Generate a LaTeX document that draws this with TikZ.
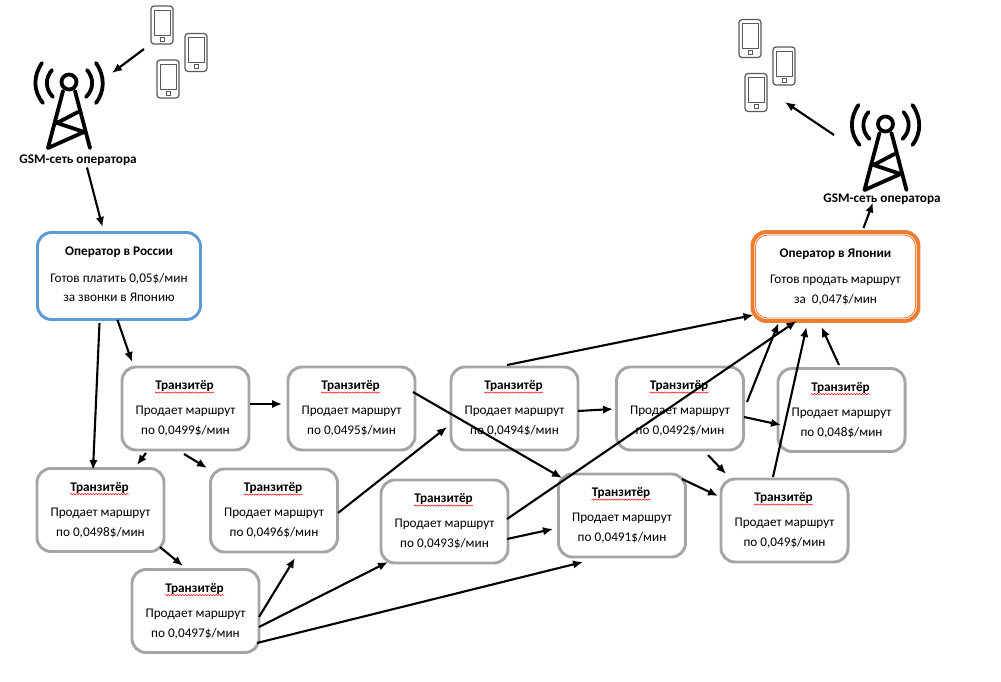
\documentclass[tikz,border=0pt]{standalone}
\usepackage{fontspec}
\setmainfont{Carlito}
\usepackage{xcolor}
\usepackage{tikz}
\usetikzlibrary{arrows.meta, calc, decorations.pathmorphing}
\definecolor{ruBlue}{RGB}{91,155,213}
\definecolor{jpOrange}{RGB}{237,125,49}
\definecolor{transGray}{RGB}{165,165,165}
\definecolor{phoneGray}{RGB}{90,90,90}
\tikzset{
  x=0.025cm, y=-0.025cm,
  box/.style={draw, rounded corners=0.35cm, line width=2.1pt, fill=white, inner sep=0pt},
  transbox/.style={box, draw=transGray, minimum width=3.175cm, minimum height=2.075cm},
  link/.style={-{Latex[length=2.5mm,width=2.1mm]}, line width=1.5pt, black},
  towerline/.style={line width=2.7pt, line cap=round, line join=round},
  wavy/.style={red, line width=0.35pt, decorate, decoration={snake, amplitude=0.45pt, segment length=2pt}},
  boxtext/.style={font=\fontsize{9.4}{9.4}\selectfont, inner sep=0pt},
  boxhead/.style={font=\fontsize{9.4}{9.4}\bfseries\selectfont, inner sep=0pt},
  phone/.pic={
    \draw[phoneGray, line width=0.9pt, rounded corners=2.2pt, fill=white] (-11,-19) rectangle (11,19);
    \draw[phoneGray, line width=0.7pt] (-8,-15) rectangle (8,10);
    \draw[phoneGray, line width=0.6pt] (-2,12) rectangle (2,16);
  },
  tower/.pic={
    \draw[towerline] (0,0) circle (7.5);
    \draw[towerline] (-6,9) -- (-21,66) (6,9) -- (21,66) (-21,66) -- (15,50) -- (-12,41) -- (9,30);
    \draw[towerline] (-17,-12) .. controls (-24,-4) and (-24,7) .. (-16,15);
    \draw[towerline] (18,-12) .. controls (25,-4) and (25,7) .. (17,15);
    \draw[towerline] (-27,-19) .. controls (-36,-6) and (-36,9) .. (-26,21);
    \draw[towerline] (27,-19) .. controls (36,-6) and (36,9) .. (27,21);
  }
}
\newcommand{\transit}[3]{%
  \node[transbox] (#1) at (#2) {};
  \node[boxhead] (#1head) at ($(#1)+(-1,-22.2)$) {Транзитёр};
  \draw[wavy] ($(#1head.south west)+(0,0.5)$) -- ($(#1head.south east)+(0,0.5)$);
  \node[boxtext] (#1a) at ($(#1)+(0,3.3)$) {Продает маршрут};
  \node[boxtext] (#1b) at ($(#1)+(0,22.3)$) {по #3\$/мин};
}
\begin{document}
\begin{tikzpicture}
  \useasboundingbox (0,0) rectangle (1001,682);
  % towers and phones
  \pic at (69,82) {tower};
  \pic at (885.5,124) {tower};
  \pic at (162,25) {phone};
  \pic at (196,52.5) {phone};
  \pic at (168,79) {phone};
  \pic at (750,38.5) {phone};
  \pic at (784,66) {phone};
  \pic at (756,92.5) {phone};
  \node[boxhead] (gsmru) at (78,160.5) {GSM-сеть оператора};
  \node[boxhead] (gsmjp) at (882,199.5) {GSM-сеть оператора};
  \coordinate (phonesru) at (144,49);
  \coordinate (towerru) at (112,73);
  \coordinate (towerjp) at (834,135);
  \coordinate (phonesjp) at (785,102);
  % operators
  \node[box, draw=ruBlue, minimum width=4.075cm, minimum height=2.175cm] (russia) at (119,276) {};
  \node[boxhead] (russiahead) at ($(russia)+(0,-24.2)$) {Оператор в России};
  \node[boxtext] (russiaa) at ($(russia)+(0,2.8)$) {Готов платить 0,05\$/мин};
  \node[boxtext] (russiab) at ($(russia)+(0,21.8)$) {за звонки в Японию};
  \node[box, draw=jpOrange, line width=2.8pt, minimum width=4.15cm, minimum height=2.225cm] (japan) at (835.5,276.5) {};
  \node[box, draw=jpOrange, line width=0.6pt, rounded corners=0.3cm, minimum width=4cm, minimum height=2.075cm] (japanin) at (japan) {};
  \node[boxhead] (japanhead) at ($(japan)+(0,-22.7)$) {Оператор в Японии};
  \node[boxtext] (japana) at ($(japan)+(0,4.3)$) {Готов продать маршрут};
  \node[boxtext] (japanb) at ($(japan)+(0,23.3)$) {за\ \ 0,047\$/мин};
  % transit
  \transit{ta}{185.5,408.5}{0,0499}
  \transit{tb}{351.5,408.5}{0,0495}
  \transit{tc}{514.5,408.5}{0,0494}
  \transit{td}{680,408.5}{0,0492}
  \transit{te}{841.5,410}{0,048}
  \transit{tf}{100.5,510}{0,0498}
  \transit{tg}{274,510.5}{0,0496}
  \transit{th}{444.5,521.5}{0,0493}
  \transit{ti}{622,515.5}{0,0491}
  \transit{tj}{784.5,520.5}{0,049}
  \transit{tk}{195.5,611}{0,0497}
  % connectors
  \draw[link] (phonesru) -- (towerru);
  \draw[link] (towerjp) -- (phonesjp);
  \draw[link] ($(gsmru)+(9,7)$) -- ($(russia)+(-16.5,-49)$);
  \draw[link] ($(japan)+(28,-48.5)$) -- ($(gsmjp)+(-9,3)$);
  \draw[link] ($(russia)+(-1.5,44)$) -- ($(ta)+(-53.5,-46.5)$);
  \draw[link] ($(russia)+(-19.5,47)$) -- ($(tf)+(-7.5,-40)$);
  \draw[link] ($(ta)+(64.5,-4.5)$) -- ($(tb)+(-69.5,-4.5)$);
  \draw[link] ($(ta)+(-39.5,44.5)$) -- ($(tf)+(36.5,-45)$);
  \draw[link] ($(ta)+(-1.5,45.5)$) -- ($(tg)+(-67,-42.5)$);
  \draw[link] ($(tf)+(59.5,37)$) -- ($(tk)+(-12.5,-45)$);
  \draw[link] ($(tb)+(61.5,-16.5)$) -- ($(ti)+(-60,-37.5)$);
  \draw[link] ($(tc)+(63.5,2.5)$) -- ($(td)+(-67,0.5)$);
  \draw[link] ($(tc)+(-7.5,-43.5)$) -- ($(japan)+(-82,38.5)$);
  \draw[link] ($(td)+(64,8.5)$) -- ($(te)+(-60.5,15)$);
  \draw[link] ($(td)+(67,-6.5)$) -- ($(japan)+(-57,46.5)$);
  \draw[link] ($(td)+(28,46.5)$) -- ($(tj)+(-58.5,-46.5)$);
  \draw[link] ($(ti)+(60,-36.5)$) -- ($(tj)+(-66.5,-24.5)$);
  \draw[link] ($(tj)+(-11.5,-43.5)$) -- ($(japan)+(-29,50.5)$);
  \draw[link] ($(te)+(-2.5,-45)$) -- ($(japan)+(-14,50.5)$);
  \draw[link] ($(tg)+(64,2.5)$) -- ($(tc)+(-67.5,18.5)$);
  \draw[link] ($(tk)+(63.5,6)$) -- ($(tg)+(21,47.5)$);
  \draw[link] ($(tk)+(63.5,16)$) -- ($(th)+(-56.5,40.5)$);
  \draw[link] ($(tk)+(61.5,32)$) -- ($(ti)+(-39,46.5)$);
  \draw[link] ($(th)+(62.5,17.5)$) -- ($(ti)+(-69,13.5)$);
  \draw[link] ($(th)+(62.5,-2.5)$) -- ($(japan)+(-39,44.5)$);
\end{tikzpicture}
\end{document}
